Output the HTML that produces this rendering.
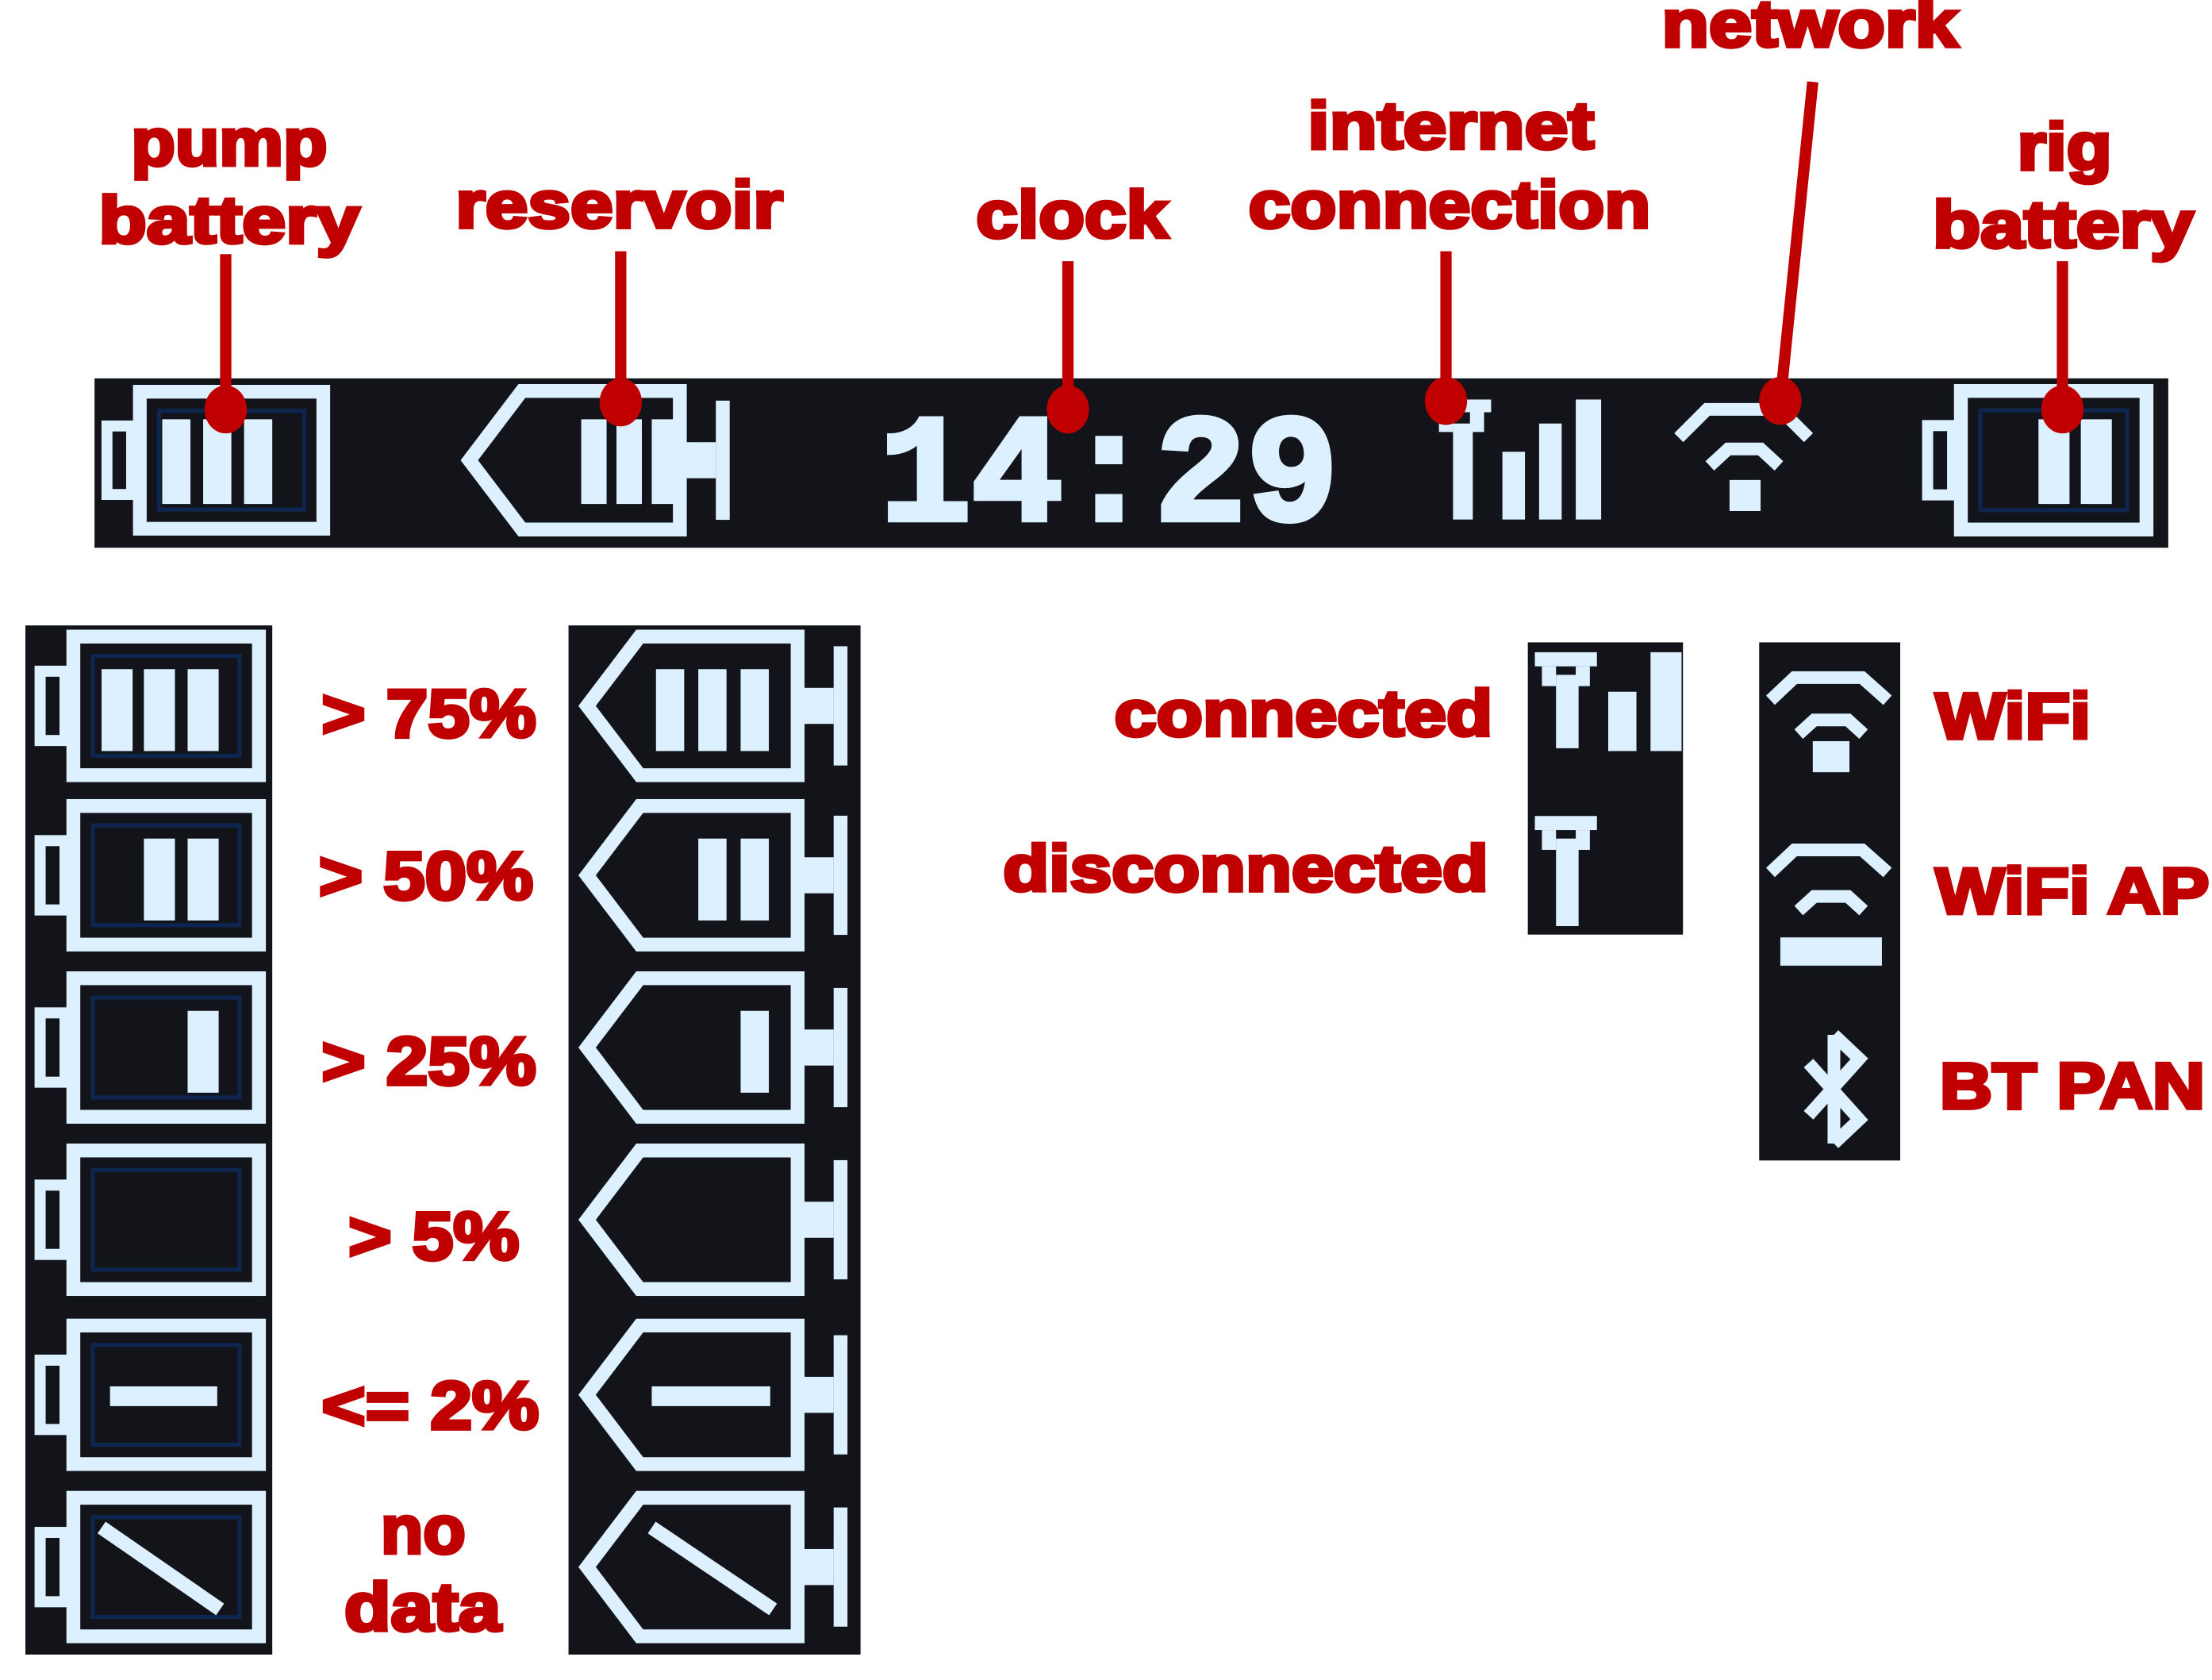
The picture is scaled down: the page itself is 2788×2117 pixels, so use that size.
<!DOCTYPE html>
<html><head><meta charset="utf-8"><style>
html,body{margin:0;padding:0;background:#fff;}
svg{display:block;}
text{font-family:"Liberation Sans",Arial,sans-serif;font-weight:bold;fill:#c00000;stroke:#c00000;stroke-width:2.6;}
</style></head><body>
<svg width="2788" height="2117" viewBox="0 0 1568 1190" preserveAspectRatio="none" xmlns="http://www.w3.org/2000/svg">
<defs>
<symbol id="bframe" viewBox="0 0 170 110">
  <rect x="6" y="30" width="18" height="50" fill="none" stroke="#dcf0ff" stroke-width="8"/>
  <rect x="30" y="5" width="134" height="100" fill="none" stroke="#dcf0ff" stroke-width="10"/>
  <rect x="44" y="19" width="106" height="72" fill="none" stroke="#0e2550" stroke-width="3"/>
</symbol>
<symbol id="rframe" viewBox="0 0 200 110">
  <polygon points="8,55 46,5 160,5 160,105 46,105" fill="none" stroke="#dcf0ff" stroke-width="10"/>
  <rect x="160" y="42" width="26" height="26" fill="#dcf0ff"/>
  <rect x="186" y="12" width="10" height="86" fill="#dcf0ff"/>
</symbol>
</defs>

<rect x="67" y="268" width="1470" height="120" fill="#12141a"/>
<use href="#bframe" x="70" y="272" width="165" height="108"/>
<g fill="#dcf0ff"><rect x="115" y="297" width="20" height="60"/><rect x="144" y="297" width="20" height="60"/><rect x="173" y="297" width="20" height="60"/></g>
<use href="#rframe" x="318" y="272" width="210" height="108"/>
<g fill="#dcf0ff"><rect x="412" y="297" width="18" height="60"/><rect x="437" y="297" width="18" height="60"/><rect x="462" y="297" width="18" height="60"/></g>
<text x="786" y="368" text-anchor="middle" textLength="325" lengthAdjust="spacingAndGlyphs" style="font-family:'Liberation Mono',monospace;fill:#dcf0ff;stroke:#dcf0ff;stroke-width:4;font-size:108px">14:29</text>
<g fill="#dcf0ff">
<rect x="1015" y="283" width="42" height="9"/><rect x="1020" y="292" width="10" height="14"/><rect x="1042" y="292" width="10" height="14"/><rect x="1030" y="300" width="14" height="68"/>
<rect x="1065" y="320" width="16" height="48"/><rect x="1091" y="300" width="16" height="68"/><rect x="1117" y="283" width="18" height="85"/>
</g>
<g fill="none" stroke="#dcf0ff" stroke-width="9">
<path d="M1190 310 L1210 290 L1262 290 L1282 310"/>
<path d="M1212 330 L1225 318 L1248 318 L1261 330"/>
</g>
<rect x="1226" y="340" width="22" height="22" fill="#dcf0ff"/>
<use href="#bframe" x="1360" y="272" width="168" height="108"/>
<g fill="#dcf0ff"><rect x="1445" y="297" width="22" height="60"/><rect x="1475" y="297" width="22" height="60"/></g>

<g stroke="#c00000" stroke-width="8" fill="none">
<line x1="160" y1="180" x2="160" y2="290"/>
<line x1="440" y1="178" x2="440" y2="285"/>
<line x1="757" y1="185" x2="757" y2="290"/>
<line x1="1025" y1="178" x2="1025" y2="284"/>
<line x1="1285" y1="58" x2="1262" y2="284"/>
<line x1="1462" y1="185" x2="1462" y2="290"/>
</g>
<g fill="#c00000">
<ellipse cx="160" cy="290" rx="15" ry="17"/><ellipse cx="440" cy="285" rx="15" ry="17"/>
<ellipse cx="757" cy="290" rx="15" ry="17"/><ellipse cx="1025" cy="284" rx="15" ry="17"/>
<ellipse cx="1262" cy="284" rx="15" ry="17"/><ellipse cx="1462" cy="290" rx="15" ry="17"/>
</g>

<g font-size="47" lengthAdjust="spacingAndGlyphs">
<text x="93" y="117" textLength="139" lengthAdjust="spacingAndGlyphs">pump</text>
<text x="70" y="172" textLength="185" lengthAdjust="spacingAndGlyphs">battery</text>
<text x="323" y="161" textLength="232" lengthAdjust="spacingAndGlyphs">reservoir</text>
<text x="692" y="168" textLength="136" lengthAdjust="spacingAndGlyphs">clock</text>
<text x="927" y="105" textLength="203" lengthAdjust="spacingAndGlyphs">internet</text>
<text x="885" y="161" textLength="285" lengthAdjust="spacingAndGlyphs">connection</text>
<text x="1178" y="33" textLength="210" lengthAdjust="spacingAndGlyphs">network</text>
<text x="1430" y="120" textLength="67" lengthAdjust="spacingAndGlyphs">rig</text>
<text x="1370" y="175" textLength="185" lengthAdjust="spacingAndGlyphs">battery</text>
</g>

<rect x="18" y="443" width="175" height="729" fill="#12141a"/>
<rect x="403" y="443" width="207" height="729" fill="#12141a"/>
<g>
<use href="#bframe" x="22" y="446" width="168" height="108"/>
<use href="#bframe" x="22" y="566" width="168" height="108"/>
<use href="#bframe" x="22" y="688" width="168" height="108"/>
<use href="#bframe" x="22" y="810" width="168" height="108"/>
<use href="#bframe" x="22" y="934" width="168" height="108"/>
<use href="#bframe" x="22" y="1056" width="168" height="108"/>
<use href="#rframe" x="405" y="446" width="203" height="108"/>
<use href="#rframe" x="405" y="566" width="203" height="108"/>
<use href="#rframe" x="405" y="688" width="203" height="108"/>
<use href="#rframe" x="405" y="810" width="203" height="108"/>
<use href="#rframe" x="405" y="934" width="203" height="108"/>
<use href="#rframe" x="405" y="1056" width="203" height="108"/>
</g>
<g fill="#dcf0ff">
<rect x="72" y="474" width="22" height="58"/><rect x="102" y="474" width="22" height="58"/><rect x="133" y="474" width="22" height="58"/>
<rect x="102" y="594" width="22" height="58"/><rect x="133" y="594" width="22" height="58"/>
<rect x="133" y="716" width="22" height="58"/>
<rect x="78" y="982" width="76" height="14"/>
<rect x="465" y="474" width="20" height="58"/><rect x="495" y="474" width="20" height="58"/><rect x="525" y="474" width="20" height="58"/>
<rect x="495" y="594" width="20" height="58"/><rect x="525" y="594" width="20" height="58"/>
<rect x="525" y="716" width="20" height="58"/>
<rect x="462" y="982" width="84" height="14"/>
</g>
<g stroke="#dcf0ff" stroke-width="10">
<line x1="72" y1="1082" x2="156" y2="1140"/>
<line x1="462" y1="1082" x2="548" y2="1140"/>
</g>

<g font-size="48">
<text x="228" y="522" textLength="152" lengthAdjust="spacingAndGlyphs">&gt; 75%</text>
<text x="226" y="637" textLength="152" lengthAdjust="spacingAndGlyphs">&gt; 50%</text>
<text x="228" y="768" textLength="152" lengthAdjust="spacingAndGlyphs">&gt; 25%</text>
<text x="247" y="892" textLength="121" lengthAdjust="spacingAndGlyphs">&gt; 5%</text>
<text x="228" y="1012" textLength="154" lengthAdjust="spacingAndGlyphs">&lt;= 2%</text>
<text x="270" y="1100" textLength="60" lengthAdjust="spacingAndGlyphs">no</text>
<text x="244" y="1155" textLength="111" lengthAdjust="spacingAndGlyphs">data</text>
</g>

<rect x="1083" y="455" width="110" height="207" fill="#12141a"/>
<g fill="#dcf0ff">
<rect x="1088" y="462" width="44" height="10"/><rect x="1093" y="472" width="10" height="14"/><rect x="1117" y="472" width="10" height="14"/><rect x="1103" y="478" width="16" height="52"/>
<rect x="1140" y="490" width="20" height="42"/><rect x="1170" y="462" width="22" height="70"/>
<rect x="1088" y="578" width="44" height="10"/><rect x="1093" y="588" width="10" height="14"/><rect x="1117" y="588" width="10" height="14"/><rect x="1103" y="594" width="16" height="62"/>
</g>
<rect x="1247" y="455" width="100" height="367" fill="#12141a"/>
<g fill="none" stroke="#dcf0ff" stroke-width="9">
<path d="M1255 496 L1272 480 L1320 480 L1338 496"/>
<path d="M1275 520 L1286 510 L1310 510 L1321 520"/>
<path d="M1255 618 L1272 602 L1320 602 L1338 618"/>
<path d="M1275 645 L1286 635 L1310 635 L1321 645"/>
<path d="M1300 733 L1300 810 M1300 733 L1318 750 L1282 790 M1300 810 L1318 793 L1282 753"/>
</g>
<rect x="1285" y="525" width="26" height="22" fill="#dcf0ff"/>
<rect x="1262" y="664" width="72" height="20" fill="#dcf0ff"/>

<g font-size="46">
<text x="790" y="521" textLength="268" lengthAdjust="spacingAndGlyphs">connected</text>
<text x="711" y="631" textLength="344" lengthAdjust="spacingAndGlyphs">disconnected</text>
<text x="1372" y="523" textLength="110" lengthAdjust="spacingAndGlyphs">WiFi</text>
<text x="1372" y="647" textLength="194" lengthAdjust="spacingAndGlyphs">WiFi AP</text>
<text x="1375" y="785" textLength="188" lengthAdjust="spacingAndGlyphs">BT PAN</text>
</g>
</svg>
</body></html>
